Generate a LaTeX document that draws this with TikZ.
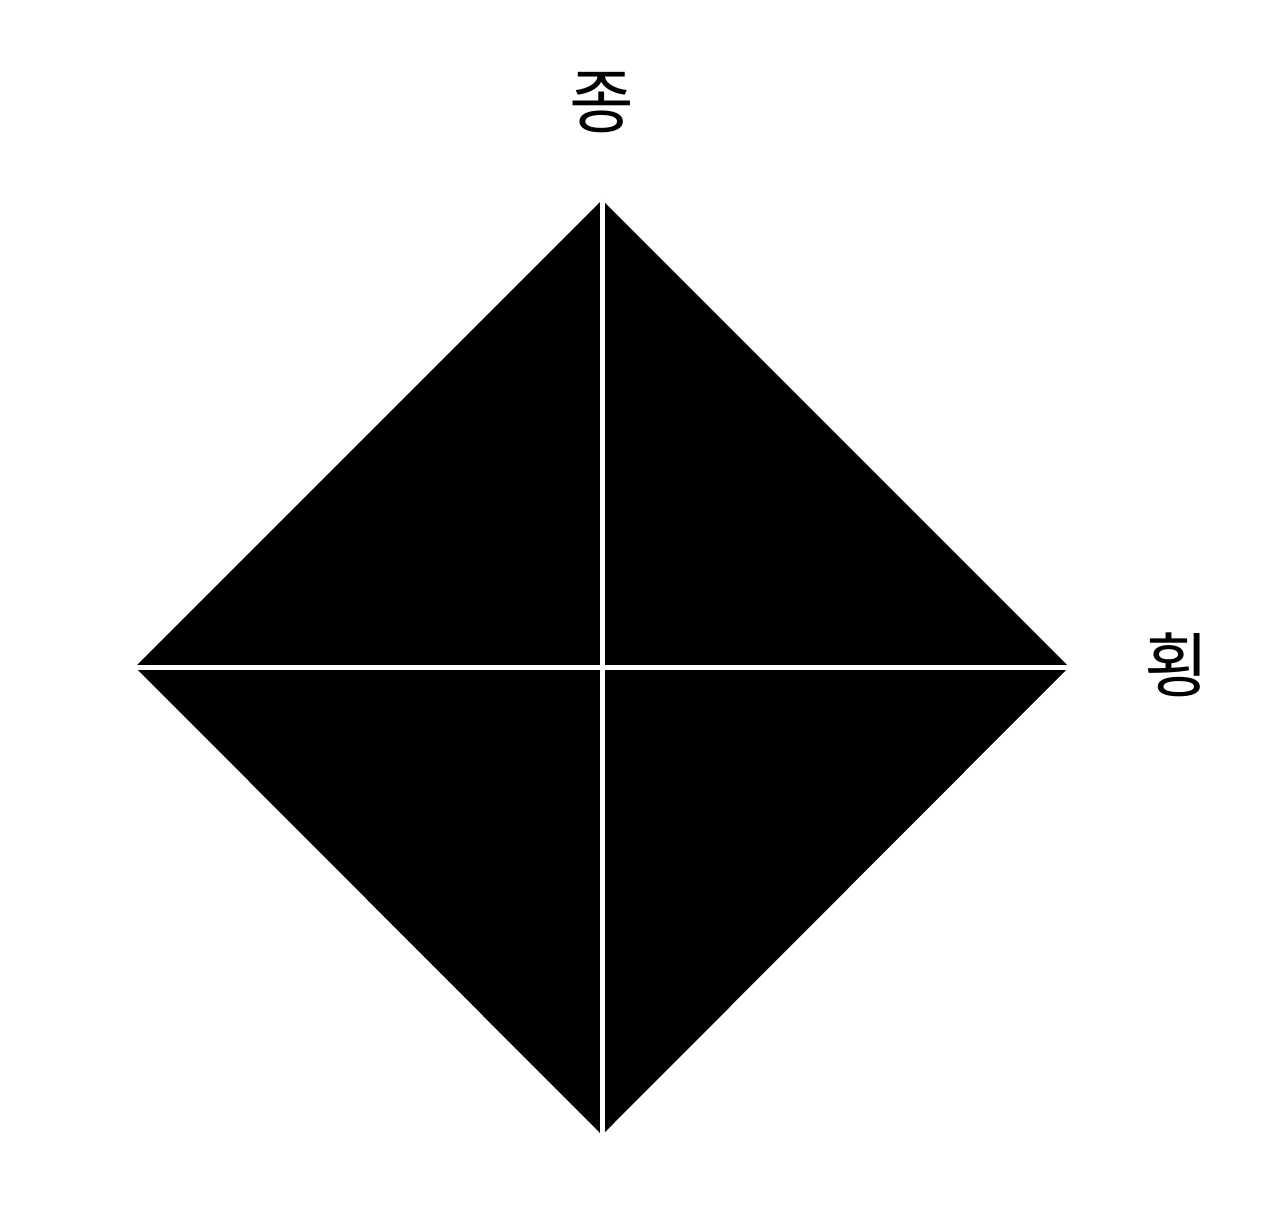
\documentclass[tikz,border=0pt]{standalone}
\usepackage{fontspec}
\newfontfamily\krfont{Noto Sans CJK KR}
\tikzset{
  axislabel/.style={font=\krfont\fontsize{40}{40}\selectfont, inner sep=0pt},
  split/.style={draw=white, line width=0.1cm}
}
\begin{document}
\begin{tikzpicture}[x=0.02cm, y=-0.02cm]
    \useasboundingbox (0,0) rectangle (1280,1213);
    % corners of the diamond
    \coordinate (top) at (602,200);
    \coordinate (right) at (1069,667);
    \coordinate (bottom) at (602,1135);
    \coordinate (left) at (135,667);
    \fill[black] (top) -- (right) -- (bottom) -- (left) -- cycle;
    % white cross through it
    \path[split] (top) -- (bottom);
    \path[split] (left) -- (right);
    % labels
    \node[axislabel] (jong) at (602,103) {종};
    \node[axislabel] (hoeng) at (1177,665) {횡};
\end{tikzpicture}
\end{document}
